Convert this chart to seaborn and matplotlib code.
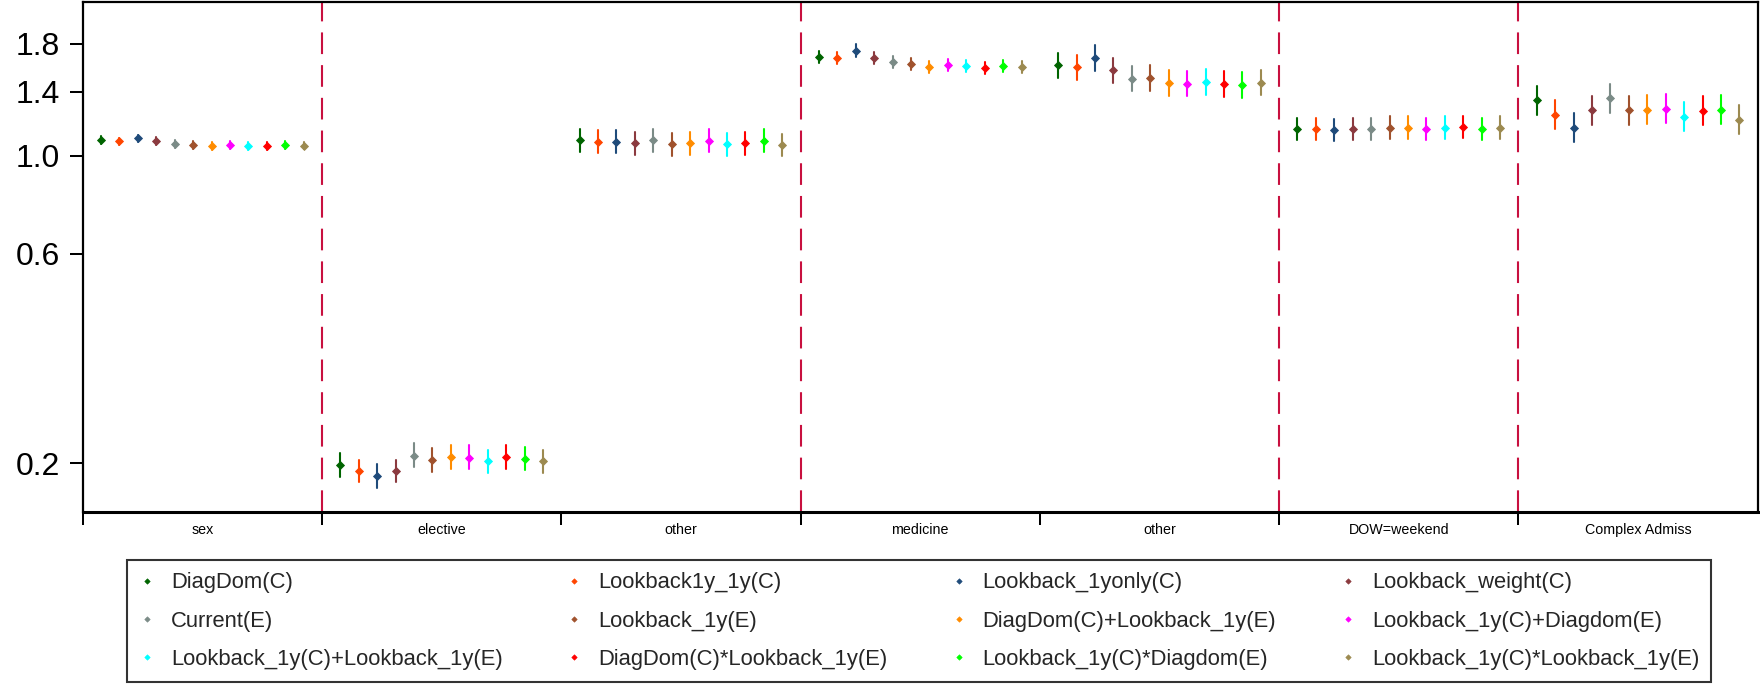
import numpy as np
import pandas as pd
import matplotlib
matplotlib.use("Agg")
import matplotlib.pyplot as plt
import seaborn as sns
from matplotlib.lines import Line2D
from matplotlib.ticker import FixedLocator, FixedFormatter, NullLocator, NullFormatter

# ---------------- data ----------------
categories = ["sex", "elective", "other", "medicine", "other", "DOW=weekend", "Complex Admiss"]

series = [
    "DiagDom(C)", "Lookback1y_1y(C)", "Lookback_1yonly(C)", "Lookback_weight(C)",
    "Current(E)", "Lookback_1y(E)", "DiagDom(C)+Lookback_1y(E)", "Lookback_1y(C)+Diagdom(E)",
    "Lookback_1y(C)+Lookback_1y(E)", "DiagDom(C)*Lookback_1y(E)", "Lookback_1y(C)*Diagdom(E)",
    "Lookback_1y(C)*Lookback_1y(E)",
]

colors = ["#006400", "#FF4500", "#1F4B7A", "#8B3A3F", "#7B8B87", "#A0522D",
          "#FF8C00", "#FF00FF", "#00FFFF", "#FF0000", "#00FF00", "#9C8A50"]

sex_est = [1.088, 1.079, 1.098, 1.083, 1.066, 1.058, 1.054, 1.058, 1.054, 1.054, 1.058, 1.056]
sex_lo = [1.067, 1.058, 1.077, 1.062, 1.045, 1.038, 1.034, 1.038, 1.034, 1.034, 1.038, 1.036]
sex_hi = [1.110, 1.100, 1.119, 1.104, 1.086, 1.079, 1.075, 1.079, 1.075, 1.075, 1.079, 1.077]

elective_est = [0.198, 0.192, 0.187, 0.192, 0.208, 0.204, 0.207, 0.206, 0.203, 0.207, 0.205, 0.203]
elective_lo = [0.186, 0.181, 0.176, 0.181, 0.196, 0.191, 0.194, 0.194, 0.190, 0.194, 0.193, 0.190]
elective_hi = [0.211, 0.204, 0.199, 0.204, 0.222, 0.217, 0.220, 0.220, 0.215, 0.220, 0.218, 0.215]

other1_est = [1.086, 1.077, 1.077, 1.069, 1.086, 1.064, 1.069, 1.082, 1.064, 1.069, 1.082, 1.060]
other1_lo = [1.023, 1.014, 1.014, 1.007, 1.023, 1.002, 1.007, 1.019, 1.002, 1.007, 1.019, 0.998]
other1_hi = [1.153, 1.143, 1.143, 1.135, 1.153, 1.129, 1.135, 1.149, 1.129, 1.135, 1.149, 1.125]

medicine_est = [1.683, 1.674, 1.737, 1.668, 1.636, 1.616, 1.596, 1.607, 1.602, 1.588, 1.599, 1.593]
medicine_lo = [1.630, 1.621, 1.683, 1.616, 1.585, 1.565, 1.546, 1.557, 1.552, 1.538, 1.549, 1.543]
medicine_hi = [1.737, 1.728, 1.793, 1.722, 1.689, 1.668, 1.648, 1.659, 1.654, 1.639, 1.651, 1.644]

other2_est = [1.607, 1.590, 1.671, 1.565, 1.500, 1.506, 1.466, 1.461, 1.474, 1.459, 1.451, 1.469]
other2_lo = [1.503, 1.487, 1.563, 1.463, 1.403, 1.408, 1.371, 1.366, 1.378, 1.364, 1.357, 1.374]
other2_hi = [1.719, 1.700, 1.787, 1.674, 1.604, 1.611, 1.568, 1.562, 1.576, 1.560, 1.552, 1.571]

dow_est = [1.153, 1.153, 1.147, 1.153, 1.151, 1.160, 1.160, 1.153, 1.160, 1.162, 1.153, 1.160]
dow_lo = [1.088, 1.088, 1.082, 1.088, 1.086, 1.094, 1.094, 1.088, 1.094, 1.096, 1.088, 1.094]
dow_hi = [1.222, 1.222, 1.216, 1.222, 1.220, 1.230, 1.230, 1.222, 1.230, 1.232, 1.222, 1.230]

complex_est = [1.340, 1.242, 1.160, 1.269, 1.354, 1.271, 1.273, 1.280, 1.227, 1.267, 1.275, 1.210]
complex_lo = [1.242, 1.151, 1.075, 1.176, 1.255, 1.178, 1.180, 1.187, 1.137, 1.174, 1.182, 1.122]
complex_hi = [1.446, 1.340, 1.251, 1.369, 1.461, 1.371, 1.373, 1.381, 1.324, 1.367, 1.375, 1.305]

estimates = [sex_est, elective_est, other1_est, medicine_est, other2_est, dow_est, complex_est]
lows = [sex_lo, elective_lo, other1_lo, medicine_lo, other2_lo, dow_lo, complex_lo]
highs = [sex_hi, elective_hi, other1_hi, medicine_hi, other2_hi, dow_hi, complex_hi]

yticks = [0.2, 0.6, 1.0, 1.4, 1.8]
ytick_labels = ["0.2", "0.6", "1.0", "1.4", "1.8"]

divider_after = [0, 2, 4, 5]   # dashed separators after these category indices

# ---------------- long table: (low, est, high) per cell ----------------
keys = [f"{i}:{c}" for i, c in enumerate(categories)]
rows = []
for key, est, lo, hi in zip(keys, estimates, lows, highs):
    for s, e, l, h in zip(series, est, lo, hi):
        for v in (l, e, h):
            rows.append({"cat": key, "series": s, "value": v})
df = pd.DataFrame(rows)

# ---------------- plot ----------------
sns.set_theme(style="ticks")
plt.rcParams["font.family"] = ["Liberation Sans", "DejaVu Sans"]

fig = plt.figure(figsize=(17.6, 6.84), dpi=100)
ax = fig.add_axes([0.047, 0.251, 0.9517, 0.7465])

sns.pointplot(
    data=df, x="cat", y="value", hue="series", order=keys, hue_order=series,
    palette=colors, estimator="median", errorbar=("pi", 100), dodge=0.847,
    linestyle="none", markers="D", markersize=4.0, markeredgewidth=0.6,
    err_kws={"linewidth": 1.5}, log_scale=(False, True), legend=False, ax=ax,
)

ax.set_xlim(-0.5, len(categories) - 0.5)
ax.set_ylim(0.1548, 2.243)
ax.set_xlabel("")
ax.set_ylabel("")

ax.yaxis.set_major_locator(FixedLocator(yticks))
ax.yaxis.set_major_formatter(FixedFormatter(ytick_labels))
ax.yaxis.set_minor_locator(NullLocator())
ax.tick_params(axis="y", which="major", left=True, length=9.6, width=1.45,
               labelsize=23, pad=7, color="black", labelcolor="black")

ax.xaxis.set_major_locator(FixedLocator(np.arange(len(categories)) - 0.5))
ax.xaxis.set_major_formatter(NullFormatter())
ax.xaxis.set_minor_locator(FixedLocator(np.arange(len(categories))))
ax.xaxis.set_minor_formatter(FixedFormatter(categories))
ax.tick_params(axis="x", which="major", bottom=True, length=9.4, width=1.45,
               direction="out", color="black")
ax.tick_params(axis="x", which="minor", bottom=True, length=0, labelsize=10.3,
               pad=8, labelcolor="black")

for pos in divider_after:
    ax.axvline(pos + 0.5, color="#C8103F", linewidth=1.5,
               linestyle=(0, (10.4, 5.3)), zorder=0)

for side in ["left", "right", "top"]:
    ax.spines[side].set_linewidth(1.6)
    ax.spines[side].set_color("black")
ax.spines["bottom"].set_linewidth(2.2)
ax.spines["bottom"].set_color("black")

handles = [Line2D([], [], linestyle="none", marker="D", markersize=2.8,
                  color=c, markeredgewidth=0.4) for c in colors]
order = [0, 4, 8, 1, 5, 9, 2, 6, 10, 3, 7, 11]
leg = fig.legend([handles[i] for i in order], [series[i] for i in order],
                 ncol=4, loc="center", bbox_to_anchor=(0.5222, 0.092),
                 fontsize=15.8, frameon=True, fancybox=False, edgecolor="black",
                 handlelength=0.7, handletextpad=0.75, columnspacing=2.9,
                 borderpad=0.55, labelspacing=0.78)
leg.get_frame().set_linewidth(1.5)

fig.savefig("out.png", dpi=100)
